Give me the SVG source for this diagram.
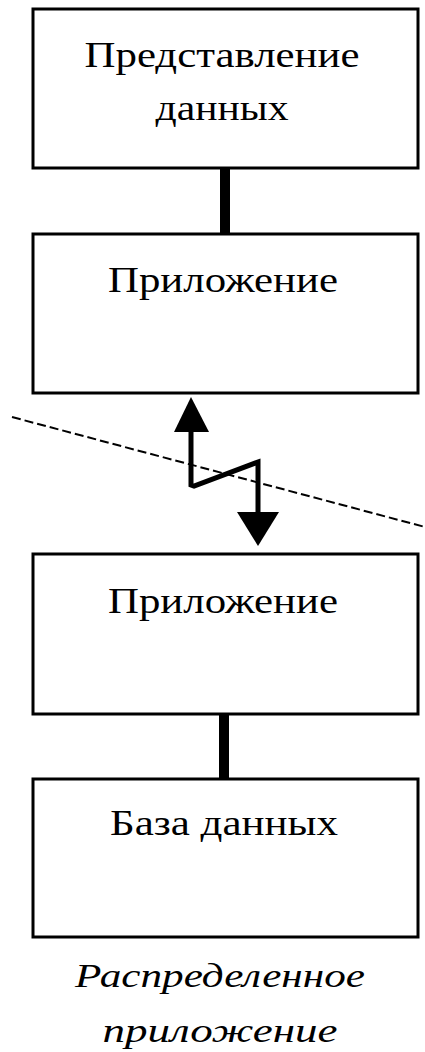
<svg xmlns="http://www.w3.org/2000/svg" width="425" height="1052" viewBox="0 0 425 1052">
  <style>
    .box { fill: #fff; stroke: #000; stroke-width: 3; }
    .lbl { font-family: "Liberation Serif", "DejaVu Serif", serif; font-size: 36px; fill: #000; text-anchor: middle; }
    .cap { font-family: "Liberation Serif", "DejaVu Serif", serif; font-size: 33px; font-style: italic; fill: #000; text-anchor: middle; }
    .bar { stroke: #000; stroke-width: 10; fill: none; }
    .link { stroke: #000; stroke-width: 5; fill: none; stroke-linejoin: miter; }
    .cut { stroke: #000; stroke-width: 2; stroke-dasharray: 9 4; fill: none; }
    .head { fill: #000; }
  </style>

  <!-- boundary between client and server -->
  <line class="cut" x1="12" y1="417" x2="425" y2="527"/>

  <g id="connectors">
    <line class="bar" x1="225" y1="169" x2="225" y2="234"/>
    <line class="bar" x1="224" y1="715" x2="224" y2="779"/>
    <!-- zig-zag network link between the two application parts -->
    <polyline class="link" points="191,430 191,485 194,486 258,462 258,515"/>
    <polygon class="head" points="191,397 174,432 209,432"/>
    <polygon class="head" points="258,546 237,512 279,512"/>
  </g>

  <g id="presentation">
    <rect class="box" x="33" y="9" width="385" height="159"/>
    <text class="lbl" x="222" y="67" textLength="275" lengthAdjust="spacingAndGlyphs">Представление</text>
    <text class="lbl" x="222" y="120" textLength="133" lengthAdjust="spacingAndGlyphs">данных</text>
  </g>

  <g id="app-client">
    <rect class="box" x="33" y="234" width="385" height="159"/>
    <text class="lbl" x="223" y="292" textLength="230" lengthAdjust="spacingAndGlyphs">Приложение</text>
  </g>

  <g id="app-server">
    <rect class="box" x="33" y="554" width="385" height="160"/>
    <text class="lbl" x="223" y="613" textLength="230" lengthAdjust="spacingAndGlyphs">Приложение</text>
  </g>

  <g id="database">
    <rect class="box" x="33" y="779" width="385" height="158"/>
    <text class="lbl" x="224" y="835" textLength="228" lengthAdjust="spacingAndGlyphs">База данных</text>
  </g>

  <g id="caption">
    <text class="cap" x="220" y="987" textLength="290" lengthAdjust="spacingAndGlyphs">Распределенное</text>
    <text class="cap" x="220" y="1042" textLength="235" lengthAdjust="spacingAndGlyphs">приложение</text>
  </g>
</svg>
